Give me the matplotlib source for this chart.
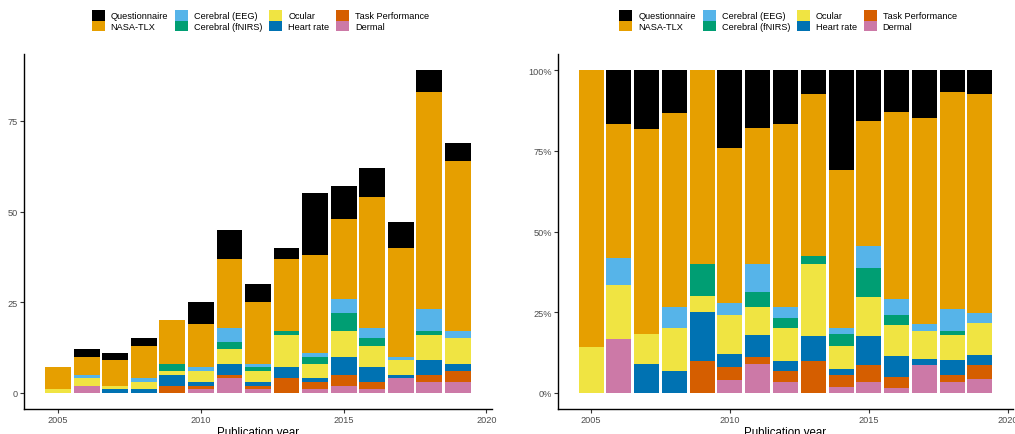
import numpy as np
import matplotlib
matplotlib.use("Agg")
import matplotlib.pyplot as plt
from matplotlib.patches import Patch
from matplotlib.ticker import FuncFormatter

plt.rcParams['font.family'] = ['Liberation Sans', 'DejaVu Sans']

years = [2005, 2006, 2007, 2008, 2009, 2010, 2011, 2012, 2013, 2014, 2015, 2016, 2017, 2018, 2019]

# stacked bottom -> top
dermal        = [0, 2, 0, 0, 0, 1, 4, 1, 0, 1, 2, 1, 4, 3, 3]
task_perf     = [0, 0, 0, 0, 2, 1, 1, 1, 4, 2, 3, 2, 0, 2, 3]
heart_rate    = [0, 0, 1, 1, 3, 1, 3, 1, 3, 1, 5, 4, 1, 4, 2]
ocular        = [1, 2, 1, 2, 1, 3, 4, 3, 9, 4, 7, 6, 4, 7, 7]
cerebral_fnirs = [0, 0, 0, 0, 2, 0, 2, 1, 1, 2, 5, 2, 0, 1, 0]
cerebral_eeg  = [0, 1, 0, 1, 0, 1, 4, 1, 0, 1, 4, 3, 1, 6, 2]
nasa_tlx      = [6, 5, 7, 9, 12, 12, 19, 17, 20, 27, 22, 36, 30, 60, 47]
questionnaire = [0, 2, 2, 2, 0, 6, 8, 5, 3, 17, 9, 8, 7, 6, 5]

stack_names = ["Dermal", "Task Performance", "Heart rate", "Ocular",
               "Cerebral (fNIRS)", "Cerebral (EEG)", "NASA-TLX", "Questionnaire"]
stack_values = [dermal, task_perf, heart_rate, ocular,
                cerebral_fnirs, cerebral_eeg, nasa_tlx, questionnaire]
colors = {
    "Questionnaire": "#000000",
    "NASA-TLX": "#E69F00",
    "Cerebral (EEG)": "#56B4E9",
    "Cerebral (fNIRS)": "#009E73",
    "Ocular": "#F0E442",
    "Heart rate": "#0072B2",
    "Task Performance": "#D55E00",
    "Dermal": "#CC79A7",
}
legend_order = ["Questionnaire", "NASA-TLX", "Cerebral (EEG)", "Cerebral (fNIRS)",
                "Ocular", "Heart rate", "Task Performance", "Dermal"]
xticks = [2005, 2010, 2015, 2020]

W, H = 1015, 435
fig = plt.figure(figsize=(W / 100, H / 100), dpi=100)

def px_axes(x0, x1, ytop, ybot):
    return fig.add_axes([x0 / W, 1 - ybot / H, (x1 - x0) / W, (ybot - ytop) / H])

ax1 = px_axes(24, 492, 55, 410)
ax2 = px_axes(558, 1013, 55, 410)

x = np.array(years, dtype=float)
vals = np.array(stack_values, dtype=float)
totals = vals.sum(axis=0)
width = 0.9

def draw(ax, data):
    bottom = np.zeros(len(x))
    for name, v in zip(stack_names, data):
        ax.bar(x, v, width=width, bottom=bottom, color=colors[name],
               linewidth=0, edgecolor='none')
        bottom = bottom + v
    lo, hi = x.min() - width / 2, x.max() + width / 2
    pad = 0.05 * (hi - lo)
    ax.set_xlim(lo - pad, hi + pad)
    ax.set_xticks(xticks)
    for s in ['top', 'right']:
        ax.spines[s].set_visible(False)
    for s in ['left', 'bottom']:
        ax.spines[s].set_linewidth(1.0)
        ax.spines[s].set_color('black')
    ax.tick_params(axis='both', length=3, width=0.8, color='#333333',
                   labelsize=6.6, labelcolor='#4D4D4D', pad=1.5)
    ax.set_xlabel("Publication year", fontsize=8.3, color='black', labelpad=1.0)

draw(ax1, vals)
ymax = totals.max()
ax1.set_ylim(-0.05 * ymax, 1.05 * ymax)
ax1.set_yticks([0, 25, 50, 75])

draw(ax2, vals / totals)
ax2.set_ylim(-0.05, 1.05)
ax2.set_yticks([0, 0.25, 0.5, 0.75, 1.0])
ax2.yaxis.set_major_formatter(FuncFormatter(lambda v, p: f"{int(round(v * 100))}%"))

handles = [Patch(facecolor=colors[n], edgecolor='none', label=n) for n in legend_order]
for cx in (260.5 / W, 788 / W):
    fig.legend(handles=handles, labels=legend_order, loc='upper center',
               bbox_to_anchor=(cx, 1 - 11 / H), ncol=4, frameon=False,
               fontsize=6.6, handlelength=1.42, handleheight=1.42,
               handletextpad=0.65, columnspacing=0.75, labelspacing=0.0,
               borderpad=0, borderaxespad=0)

fig.savefig("out.png", dpi=100)
